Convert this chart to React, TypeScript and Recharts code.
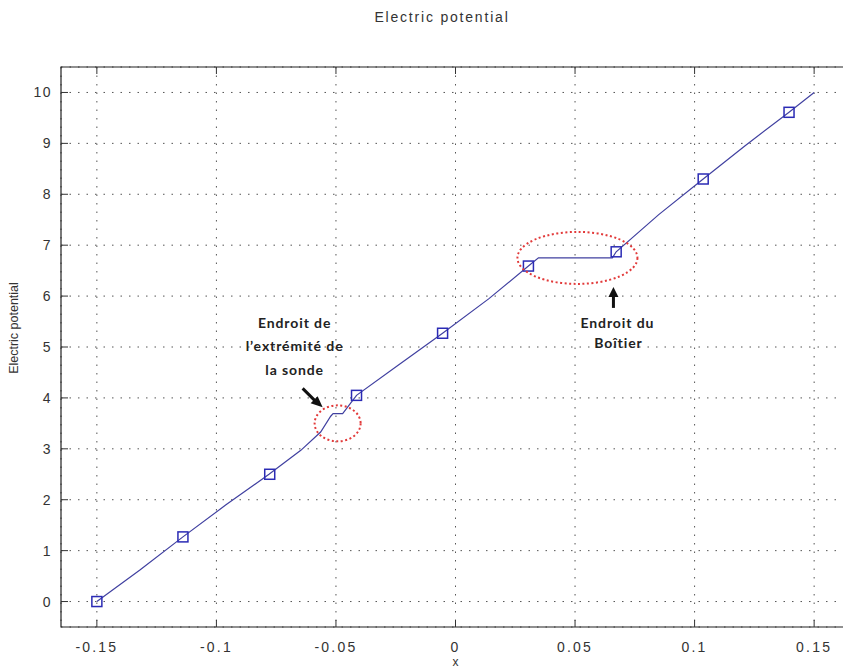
import { ComposedChart, Line, Scatter, XAxis, YAxis, CartesianGrid, ReferenceArea, ReferenceDot, Label } from 'recharts';

// Potential along the probe axis (x in m)
const curveX = [-0.15, -0.132, -0.114, -0.096, -0.078, -0.0647, -0.0564, -0.0522, -0.0512, -0.0472, -0.0414, -0.024, -0.0054, 0.014, 0.0305, 0.0347, 0.0656, 0.0672, 0.085, 0.1036, 0.121, 0.1395, 0.15];
const curveV = [0, 0.62, 1.27, 1.9, 2.5, 2.97, 3.33, 3.64, 3.69, 3.69, 4.05, 4.64, 5.27, 5.95, 6.59, 6.75, 6.75, 6.87, 7.6, 8.3, 8.95, 9.61, 10];

// Square markers
const markerX = [-0.15, -0.114, -0.0777, -0.0414, -0.0054, 0.0305, 0.0672, 0.1036, 0.1395];
const markerV = [0, 1.27, 2.5, 4.05, 5.27, 6.59, 6.87, 8.3, 9.61];

const xTicks = [-0.15, -0.1, -0.05, 0, 0.05, 0.1, 0.15];
const yTicks = [0, 1, 2, 3, 4, 5, 6, 7, 8, 9, 10];

// Annotation anchors (data coordinates)
const tipSpot = { x: -0.0493, v: 3.5 };
const caseSpot = { x: 0.051, v: 6.75 };

const curveData = curveX.map((x, i) => ({ x, v: curveV[i] }));
const markerData = markerX.map((x, i) => ({ x, v: markerV[i] }));

const PLOT_TOP = 67;
const AXIS_FONT = '"Liberation Sans", Arial, sans-serif';

const XTick = ({ x, y, payload }: any) => (
  <g>
    <line x1={x} x2={x} y1={y} y2={y - 7} stroke="#333" />
    <line x1={x} x2={x} y1={PLOT_TOP} y2={PLOT_TOP + 7} stroke="#333" />
    <text x={x} y={y + 25} textAnchor="middle" fontSize={14} letterSpacing={2.2} fill="#333" fontFamily={AXIS_FONT}>
      {String(payload.value)}
    </text>
  </g>
);

const YTick = ({ x, y, payload }: any) => (
  <g>
    <line x1={x} x2={x + 7} y1={y} y2={y} stroke="#333" />
    <text x={x - 9} y={y + 5} textAnchor="end" fontSize={14} letterSpacing={1.5} fill="#333" fontFamily={AXIS_FONT}>
      {String(payload.value)}
    </text>
  </g>
);

const Square = ({ cx, cy }: any) => (
  <rect x={cx - 5} y={cy - 5} width={10} height={10} fill="none" stroke="#2b2bb5" strokeWidth={1.5} />
);

const noteStyle = { fontFamily: 'Lato, "Open Sans", sans-serif', fontWeight: 700, fontSize: 14, letterSpacing: 0.9, fill: '#222' } as const;

const TipNote = ({ cx, cy }: any) => (
  <g>
    <ellipse cx={cx} cy={cy} rx={23} ry={18} fill="none" stroke="#e23a3a" strokeWidth={2} strokeDasharray="2 2.5" />
    <text x={cx - 43} y={cy - 95} textAnchor="middle" style={noteStyle}>Endroit de</text>
    <text x={cx - 43} y={cy - 72} textAnchor="middle" style={noteStyle}>l’extrémité de</text>
    <text x={cx - 43} y={cy - 48} textAnchor="middle" style={noteStyle}>la sonde</text>
    <line x1={cx - 35} y1={cy - 35} x2={cx - 22} y2={cy - 22} stroke="#111" strokeWidth={3} />
    <polygon points={`${cx - 15},${cy - 16} ${cx - 27},${cy - 20} ${cx - 20},${cy - 27}`} fill="#111" />
  </g>
);

const CaseNote = ({ cx, cy }: any) => (
  <g>
    <ellipse cx={cx} cy={cy} rx={60} ry={26} fill="none" stroke="#e23a3a" strokeWidth={2} strokeDasharray="2 2.5" />
    <line x1={cx + 36} y1={cy + 50} x2={cx + 36} y2={cy + 37} stroke="#111" strokeWidth={3} />
    <polygon points={`${cx + 36},${cy + 29} ${cx + 31},${cy + 39} ${cx + 41},${cy + 39}`} fill="#111" />
    <text x={cx + 40} y={cy + 70} textAnchor="middle" style={noteStyle}>Endroit du</text>
    <text x={cx + 41} y={cy + 90} textAnchor="middle" style={noteStyle}>Boîtier</text>
  </g>
);

export default function App() {
  return (
    <div style={{ position: 'absolute', left: 0, top: 0, width: 843, height: 670, overflow: 'hidden', background: '#fff' }}>
      <div
        style={{
          position: 'absolute', left: 0, width: 884, top: 9, textAlign: 'center',
          fontFamily: AXIS_FONT, fontSize: 14, letterSpacing: 1.8, color: '#333',
        }}
      >
        Electric potential
      </div>
      <ComposedChart width={880} height={670} margin={{ top: PLOT_TOP, right: 30, bottom: 0, left: 21 }}>
        <CartesianGrid stroke="#555" strokeDasharray="1.5 7" />
        <XAxis
          dataKey="x"
          type="number"
          domain={[-0.165, 0.165]}
          ticks={xTicks}
          height={43}
          tickSize={0}
          tickMargin={0}
          axisLine={false}
          tick={<XTick />}
          allowDataOverflow
        >
          <Label
            content={({ viewBox }: any) => (
              <text x={viewBox.x + viewBox.width / 2} y={viewBox.y + 39} textAnchor="middle" fontSize={12} fill="#333" fontFamily={AXIS_FONT}>
                x
              </text>
            )}
          />
        </XAxis>
        <YAxis
          type="number"
          domain={[-0.5, 10.5]}
          ticks={yTicks}
          width={40}
          tickSize={0}
          tickMargin={0}
          axisLine={false}
          tick={<YTick />}
          allowDataOverflow
        >
          <Label
            content={({ viewBox }: any) => (
              <text
                x={viewBox.x - 3}
                y={328}
                transform={`rotate(-90, ${viewBox.x - 3}, 328)`}
                textAnchor="middle"
                fontSize={12.5}
                fill="#333"
                fontFamily={AXIS_FONT}
              >
                Electric potential
              </text>
            )}
          />
        </YAxis>
        <ReferenceArea x1={-0.165} x2={0.165} y1={-0.5} y2={10.5} fill="none" stroke="#222" strokeWidth={1.2} />
        <Line data={curveData} dataKey="v" type="linear" stroke="#4040a0" strokeWidth={1.2} dot={false} isAnimationActive={false} />
        <Scatter data={markerData} dataKey="v" shape={<Square />} isAnimationActive={false} />
        <ReferenceDot x={tipSpot.x} y={tipSpot.v} shape={<TipNote />} />
        <ReferenceDot x={caseSpot.x} y={caseSpot.v} shape={<CaseNote />} />
      </ComposedChart>
    </div>
  );
}
